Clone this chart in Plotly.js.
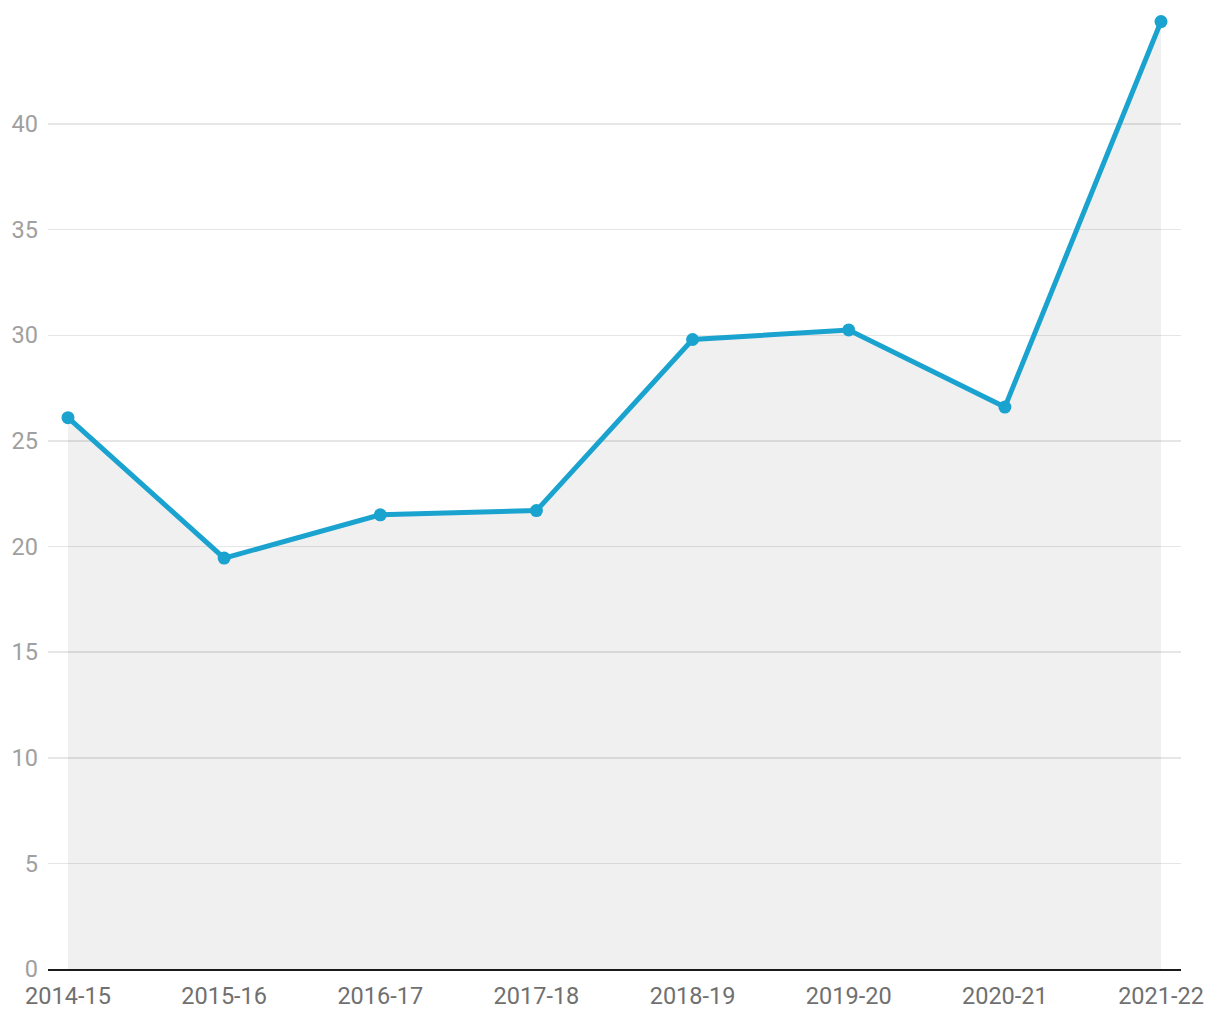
<!DOCTYPE html>
<html>
<head>
<meta charset="utf-8">
<script src="https://cdn.plot.ly/plotly-3.0.1.min.js"></script>
<style>
html,body{margin:0;padding:0;background:#fff;}
#chart{width:1220px;height:1020px;}
</style>
</head>
<body>
<div id="chart"></div>
<script>
const years = ["2014-15","2015-16","2016-17","2017-18","2018-19","2019-20","2020-21","2021-22"];
const values = [26.1, 19.45, 21.5, 21.7, 29.8, 30.25, 26.6, 44.85];
const yTicks = [0,5,10,15,20,25,30,35,40];

const trace = {
  x: years,
  y: values,
  type: "scatter",
  mode: "lines+markers",
  fill: "tozeroy",
  fillcolor: "rgba(0,0,0,0.06)",
  line: {color: "#1ba3d0", width: 5},
  marker: {color: "#1ba3d0", size: 13},
  cliponaxis: false,
  hoverinfo: "x+y"
};

const layout = {
  width: 1220,
  height: 1020,
  margin: {l: 48, r: 39, t: 15, b: 51},
  paper_bgcolor: "#fff",
  plot_bgcolor: "#fff",
  showlegend: false,
  font: {family: "Roboto, sans-serif"},
  xaxis: {
    type: "category",
    range: [-0.128, 7.128],
    showgrid: false,
    zeroline: false,
    showline: true,
    linecolor: "#1a1a1a",
    linewidth: 2,
    ticks: "",
    tickfont: {size: 23.5, color: "#707070"},
    ticklabelstandoff: 5
  },
  yaxis: {
    range: [0, 45.16],
    tickvals: yTicks,
    ticktext: yTicks.map(String),
    showgrid: true,
    gridcolor: "#e6e6e6",
    gridwidth: 1.5,
    zeroline: false,
    showline: false,
    ticks: "",
    tickfont: {size: 23.5, color: "#a0a0a0"},
    ticklabelstandoff: 9
  }
};

Plotly.newPlot("chart", [trace], layout, {displayModeBar: false, staticPlot: true});
</script>
</body>
</html>
